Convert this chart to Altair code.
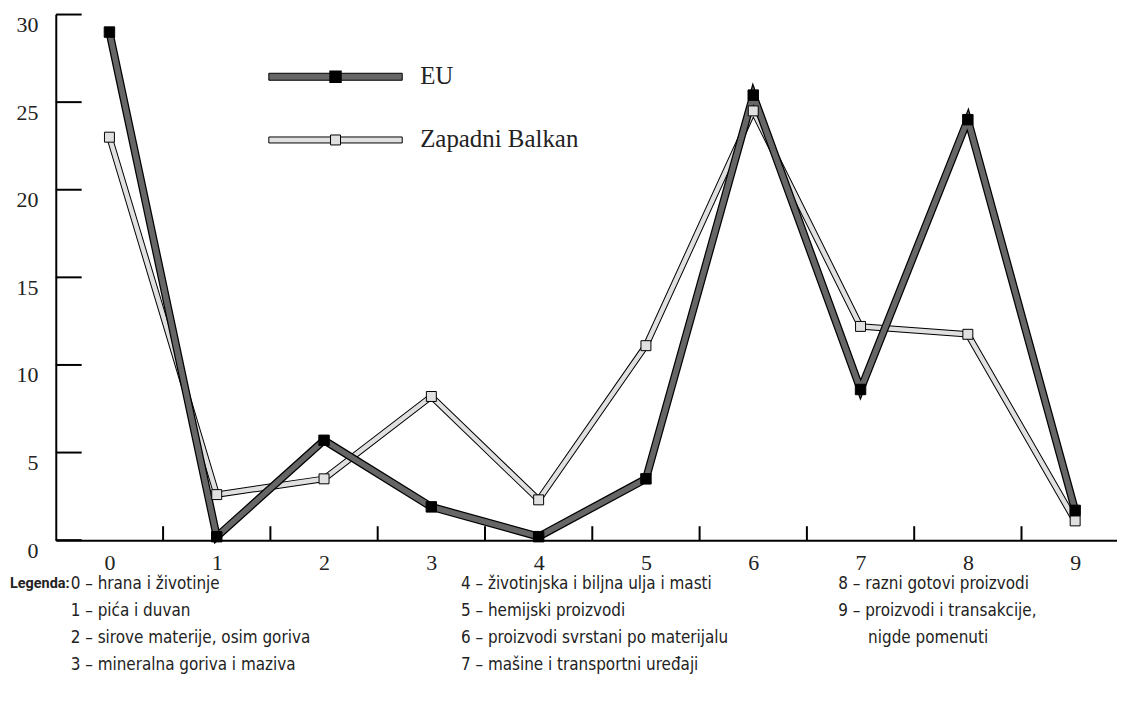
import altair as alt
import pandas as pd

# ---- data ----
categories = [0, 1, 2, 3, 4, 5, 6, 7, 8, 9]
eu_values = [29.0, 0.2, 5.7, 1.9, 0.2, 3.5, 25.4, 8.6, 24.0, 1.7]
zb_values = [23.0, 2.6, 3.5, 8.2, 2.3, 11.1, 24.5, 12.2, 11.75, 1.1]
y_tick_values = [0, 5, 10, 15, 20, 25, 30]
x_tick_bounds = [0.5, 1.5, 2.5, 3.5, 4.5, 5.5, 6.5, 7.5, 8.5]
series_names = ["EU", "Zapadni Balkan"]
legend_title = "Legenda:"
legend_col1 = ["0 – hrana i životinje", "1 – pića i duvan",
               "2 – sirove materije, osim goriva", "3 – mineralna goriva i maziva"]
legend_col2 = ["4 – životinjska i biljna ulja i masti", "5 – hemijski proizvodi",
               "6 – proizvodi svrstani po materijalu", "7 – mašine i transportni uređaji"]
legend_col3 = ["8 – razni gotovi proizvodi", "9 – proizvodi i transakcije,"]
legend_col3_cont = ["nigde pomenuti"]

W, H = 1066, 528
SERIF = "Liberation Serif"
NARROW = "DejaVu Sans Condensed, Liberation Sans Narrow, Roboto, sans-serif"
EU_FILL = "#666666"
ZB_FILL = "#e0e0e0"

eu = pd.DataFrame({"cat": categories, "val": eu_values})
zb = pd.DataFrame({"cat": categories, "val": zb_values})
one = pd.DataFrame({"k": [0]})

xs = alt.Scale(domain=[-0.5, 9.39], nice=False, zero=False)
ys = alt.Scale(domain=[0, 30], nice=False, zero=False)

X = alt.X("cat:Q", scale=xs, axis=alt.Axis(
    values=categories, format="d", ticks=False, tickSize=0, grid=False, title=None,
    domainColor="black", domainWidth=2, labelFont=SERIF, labelFontSize=22,
    labelColor="#222", labelPadding=12, labelFlush=False))
Y = alt.Y("val:Q", scale=ys, axis=alt.Axis(
    values=y_tick_values, format="d", ticks=False, tickSize=0, grid=False, title=None,
    domainColor="black", domainWidth=2, labelFont=SERIF, labelFontSize=22,
    labelColor="#222", labelPadding=18, labelOffset=10, labelFlush=False))

def line(df, color, width):
    return alt.Chart(df).mark_line(color=color, strokeWidth=width,
                                   strokeJoin="miter", strokeMiterLimit=6).encode(
        x=alt.X("cat:Q", scale=xs), y=alt.Y("val:Q", scale=ys))

base_axes = alt.Chart(eu).mark_point(opacity=0).encode(x=X, y=Y)

y_ticks = alt.Chart(pd.DataFrame({"val": y_tick_values})).mark_rule(
    color="black", strokeWidth=2).encode(
    x=alt.value(0), x2=alt.value(26), y=alt.Y("val:Q", scale=ys))
x_ticks = alt.Chart(pd.DataFrame({"cat": x_tick_bounds})).mark_rule(
    color="black", strokeWidth=2).encode(
    x=alt.X("cat:Q", scale=xs), y=alt.value(H), y2=alt.value(H - 14))

zb_out = line(zb, "black", 6.5)
zb_in = line(zb, ZB_FILL, 4.5)
eu_out = line(eu, "black", 8)
eu_in = line(eu, EU_FILL, 5.5)

zb_pts = alt.Chart(zb).mark_point(shape="square", filled=True, fill=ZB_FILL,
                                  stroke="black", strokeWidth=1, size=100, opacity=1).encode(
    x=alt.X("cat:Q", scale=xs), y=alt.Y("val:Q", scale=ys))
eu_pts = alt.Chart(eu).mark_point(shape="square", filled=True, fill="black",
                                  stroke="black", strokeWidth=1, size=110, opacity=1).encode(
    x=alt.X("cat:Q", scale=xs), y=alt.Y("val:Q", scale=ys))

# inset legend
leg_eu_bar = alt.Chart(one).mark_rect(fill=EU_FILL, stroke="black", strokeWidth=1).encode(
    x=alt.value(214), x2=alt.value(348), y=alt.value(59), y2=alt.value(66))
leg_zb_bar = alt.Chart(one).mark_rect(fill=ZB_FILL, stroke="black", strokeWidth=1).encode(
    x=alt.value(214), x2=alt.value(348), y=alt.value(123), y2=alt.value(129))
leg_eu_pt = alt.Chart(one).mark_point(shape="square", filled=True, fill="black",
                                      stroke="black", size=110, opacity=1).encode(
    x=alt.value(281), y=alt.value(62.5))
leg_zb_pt = alt.Chart(one).mark_point(shape="square", filled=True, fill=ZB_FILL,
                                      stroke="black", strokeWidth=1, size=100, opacity=1).encode(
    x=alt.value(281), y=alt.value(126))
leg_eu_txt = alt.Chart(one).mark_text(font=SERIF, fontSize=25, align="left",
                                      baseline="middle", color="#222").encode(
    x=alt.value(366), y=alt.value(62), text=alt.value(series_names[0]))
leg_zb_txt = alt.Chart(one).mark_text(font=SERIF, fontSize=25, align="left",
                                      baseline="middle", color="#222").encode(
    x=alt.value(366), y=alt.value(125), text=alt.value(series_names[1]))

def bottom_text(lines, x, font=NARROW, bold=False, size=17, y=564):
    return alt.Chart(one).mark_text(font=font, fontSize=size, align="left",
                                    baseline="top", lineHeight=27, color="#222",
                                    fontWeight="bold" if bold else "normal").encode(
        x=alt.value(x), y=alt.value(y), text=alt.value(lines))

leg_title = bottom_text([legend_title], -46, font="Roboto", bold=True, size=14.5, y=565.5)
leg_c1 = bottom_text(legend_col1, 15)
leg_c2 = bottom_text(legend_col2, 407)
leg_c3 = bottom_text(legend_col3, 786)
leg_c3b = bottom_text(legend_col3_cont, 816, y=564 + 54)

chart = alt.layer(
    base_axes, y_ticks, x_ticks,
    zb_out, zb_in, eu_out, eu_in, zb_pts, eu_pts,
    leg_eu_bar, leg_zb_bar, leg_eu_pt, leg_zb_pt, leg_eu_txt, leg_zb_txt,
    leg_title, leg_c1, leg_c2, leg_c3, leg_c3b,
).properties(
    width=W, height=H,
    background="white",
    autosize=alt.AutoSizeParams(type="none"),
    padding={"left": 48, "top": 5, "right": 0, "bottom": 160},
).configure_view(stroke=None)

chart.save("out.html", embed_options={"renderer": "svg", "actions": False})
